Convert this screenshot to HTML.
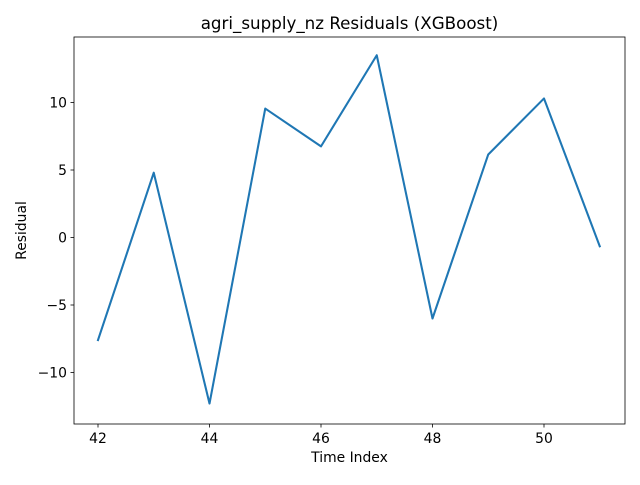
<!DOCTYPE html>
<html><head><meta charset="utf-8"><style>body{margin:0;background:#fff}svg{font-family:"DejaVu Sans","Liberation Sans",sans-serif}</style></head>
<body>
<svg id="chart" width="640" height="480" xmlns="http://www.w3.org/2000/svg"></svg>
<script>
const xValues = [42,43,44,45,46,47,48,49,50,51];
const residuals = [-7.6,4.8,-12.3,9.55,6.75,13.5,-6.0,6.15,10.3,-0.65];
const xTicks = [42,44,46,48,50];
const yTicks = [-10,-5,0,5,10];
const L=74,R=625,T=37,B=424;
const sx=v=>98+(v-42)*55.75;
const sy=v=>237.5-v*13.5;
const svg=document.getElementById('chart');
const NS='http://www.w3.org/2000/svg';
function mk(tag,attrs,parent){const e=document.createElementNS(NS,tag);for(const k in attrs)e.setAttribute(k,attrs[k]);(parent||svg).appendChild(e);return e;}
const frame=mk('rect',{x:L,y:T,width:R-L,height:B-T,fill:'none',stroke:'#000','stroke-width':0.8});


xTicks.forEach(t=>{
  const l=mk('line',{x1:sx(t),x2:sx(t),y1:B,y2:B+3.5,stroke:'#000','stroke-width':0.8});
  
  
  const tx=mk('text',{x:sx(t),y:B+19,'font-size':13.9,'text-anchor':'middle'});
  
  
  tx.textContent=t;
});
yTicks.forEach(t=>{
  const l=mk('line',{x1:L-3.5,x2:L,y1:sy(t),y2:sy(t),stroke:'#000','stroke-width':0.8});
  
  
  const tx=mk('text',{x:L-7,y:sy(t)+5,'font-size':13.9,'text-anchor':'end'});
  
  
  tx.textContent=t<0?'\u2212'+Math.abs(t):t;
});
const line=mk('polyline',{points:xValues.map((x,i)=>sx(x)+','+sy(residuals[i])).join(' '),fill:'none',stroke:'#1f77b4','stroke-width':2.08,'stroke-linejoin':'round','stroke-linecap':'square'});


const title=mk('text',{x:(L+R)/2,y:29,'font-size':16.7,'text-anchor':'middle'});


title.textContent='agri_supply_nz Residuals (XGBoost)';
const xt=mk('text',{x:(L+R)/2,y:462,'font-size':13.9,'text-anchor':'middle'});


xt.textContent='Time Index';
const yt=mk('text',{x:26,y:(T+B)/2,'font-size':13.9,'text-anchor':'middle',transform:'rotate(-90 26 '+((T+B)/2)+')'});


yt.textContent='Residual';
</script>
</body></html>
